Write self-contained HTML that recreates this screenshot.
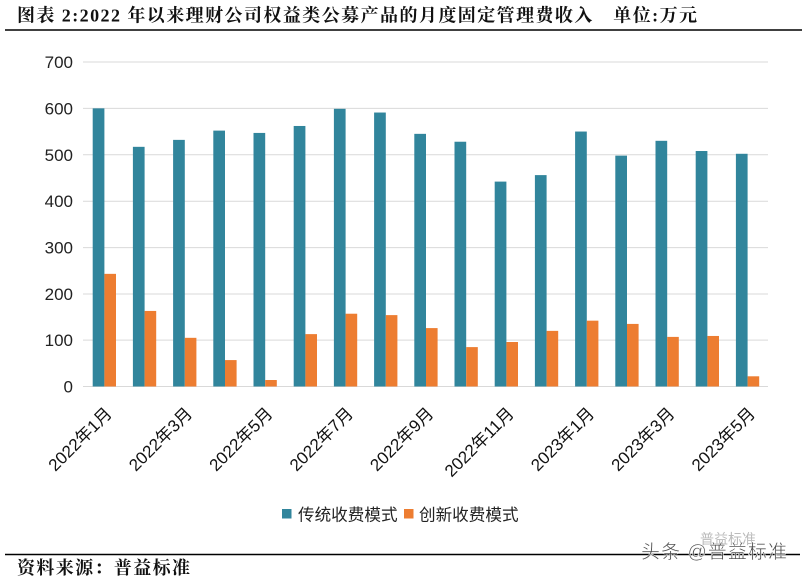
<!DOCTYPE html>
<html>
<head>
<meta charset="utf-8">
<style>
  html, body { margin: 0; padding: 0; background: #ffffff; }
  body { width: 804px; height: 580px; overflow: hidden; }
  svg { display: block; }
  .sans { font-family: "Liberation Sans", "Noto Sans CJK SC", sans-serif; }
  .serif { font-family: "Liberation Serif", "Noto Serif CJK SC", serif; }
</style>
</head>
<body>
<svg width="804" height="580" viewBox="0 0 804 580" xmlns="http://www.w3.org/2000/svg">
  <rect x="0" y="0" width="804" height="580" fill="#ffffff"/>

  <!-- Title -->
  <text class="serif" x="17" y="21.5" font-size="18" font-weight="bold" fill="#111" textLength="680" lengthAdjust="spacing">图表 2:2022 年以来理财公司权益类公募产品的月度固定管理费收入　单位:万元</text>
  <line x1="5" y1="30" x2="802" y2="30" stroke="#000" stroke-width="1.5"/>

  <!-- Gridlines -->
  <g stroke="#d9d9d9" stroke-width="1">
    <line x1="83" y1="62" x2="768" y2="62"/>
    <line x1="83" y1="108.4" x2="768" y2="108.4"/>
    <line x1="83" y1="154.8" x2="768" y2="154.8"/>
    <line x1="83" y1="201.2" x2="768" y2="201.2"/>
    <line x1="83" y1="247.6" x2="768" y2="247.6"/>
    <line x1="83" y1="294.0" x2="768" y2="294.0"/>
    <line x1="83" y1="340.1" x2="768" y2="340.1"/>
    <line x1="83" y1="386.5" x2="768" y2="386.5"/>
  </g>

  <!-- Y labels -->
  <g class="sans" font-size="17" fill="#222" text-anchor="end">
    <text x="73" y="68">700</text>
    <text x="73" y="114.4">600</text>
    <text x="73" y="160.8">500</text>
    <text x="73" y="207.2">400</text>
    <text x="73" y="253.6">300</text>
    <text x="73" y="300">200</text>
    <text x="73" y="346.1">100</text>
    <text x="73" y="392.5">0</text>
  </g>

  <!-- Bars -->
  <g id="bars"></g>

  <!-- X labels -->
  <g class="sans" font-size="17" fill="#111" text-anchor="end" id="xl"></g>

  <!-- Legend -->
  <rect x="282" y="509" width="9.5" height="9.5" fill="#31859C"/>
  <text class="sans" x="298" y="520.5" font-size="16.6" fill="#222">传统收费模式</text>
  <rect x="404" y="509" width="9.5" height="9.5" fill="#ED7D31"/>
  <text class="sans" x="419" y="520.5" font-size="16.6" fill="#222">创新收费模式</text>

  <!-- Footer -->
  <line x1="5" y1="554.5" x2="800" y2="554.5" stroke="#000" stroke-width="1.5"/>
  <text class="serif" x="17" y="574" font-size="18" font-weight="bold" fill="#111" textLength="173" lengthAdjust="spacing">资料来源：普益标准</text>

  <!-- Watermark -->
  <text class="sans" x="700" y="544" font-size="14" fill="#bbbbbb">普益标准</text>
  <text class="sans" x="641" y="558" font-size="19" fill="#4a4a4a" stroke="#ffffff" stroke-width="0.5" textLength="146" lengthAdjust="spacing">头条 @普益标准</text>

  <script>
    (function(){
      var ns = "http://www.w3.org/2000/svg";
      var blue = [600,517,532,552,547,562,599,591,545,528,442,456,550,498,530,508,502];
      var orange = [243,163,105,57,14,113,157,154,126,85,96,120,142,135,107,109,22];
      var y0 = 386.5, k = 324.5/700;
      var g = document.getElementById("bars");
      for (var i = 0; i < 17; i++) {
        var x0 = 92.7 + 40.2 * i;
        var hb = blue[i] * k, ho = orange[i] * k;
        var r1 = document.createElementNS(ns, "rect");
        r1.setAttribute("x", x0.toFixed(2));
        r1.setAttribute("y", (y0 - hb).toFixed(2));
        r1.setAttribute("width", "11.7");
        r1.setAttribute("height", hb.toFixed(2));
        r1.setAttribute("fill", "#31859C");
        g.appendChild(r1);
        var r2 = document.createElementNS(ns, "rect");
        r2.setAttribute("x", (x0 + 11.7).toFixed(2));
        r2.setAttribute("y", (y0 - ho).toFixed(2));
        r2.setAttribute("width", "11.6");
        r2.setAttribute("height", ho.toFixed(2));
        r2.setAttribute("fill", "#ED7D31");
        g.appendChild(r2);
      }
      var labels = ["2022年1月","2022年3月","2022年5月","2022年7月","2022年9月","2022年11月","2023年1月","2023年3月","2023年5月"];
      var xl = document.getElementById("xl");
      for (var j = 0; j < labels.length; j++) {
        var i2 = j * 2;
        var xm = 104.3 + 40.2 * i2 - 2;
        var ax = xm + 10.6, ay = 414.6;
        var t = document.createElementNS(ns, "text");
        t.setAttribute("x", ax.toFixed(2));
        t.setAttribute("y", ay.toFixed(2));
        t.setAttribute("transform", "rotate(-45 " + ax.toFixed(2) + " " + ay.toFixed(2) + ")");
        t.textContent = labels[j];
        xl.appendChild(t);
      }
    })();
  </script>
</svg>
</body>
</html>
